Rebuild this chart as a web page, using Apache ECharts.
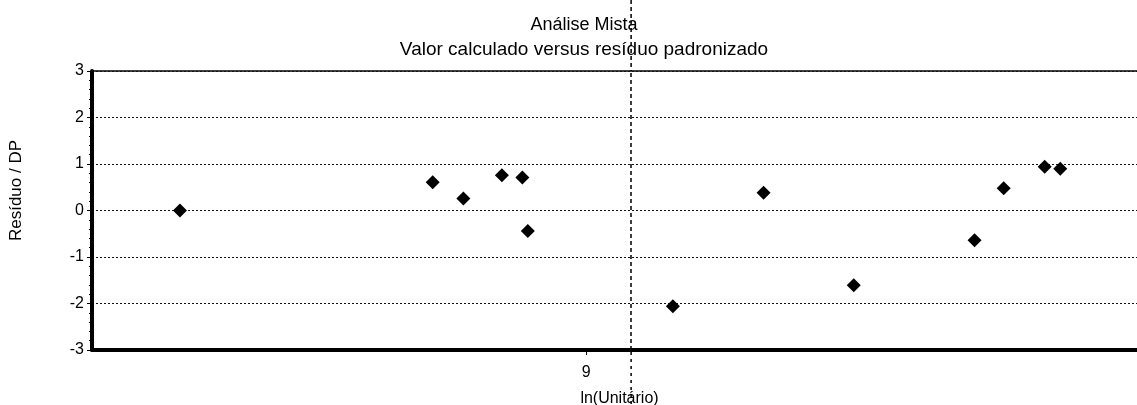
<!DOCTYPE html>
<html>
<head>
<meta charset="utf-8">
<script src="https://cdn.jsdelivr.net/npm/echarts@6/dist/echarts.min.js"></script>
<style>
html,body{margin:0;padding:0;background:#fff;}
#c{width:1137px;height:405px;}
</style>
</head>
<body>
<div id="c"></div>
<script>
// ln(Unitário) values (x) and standardized residuals (y)
const lnUnitario = [7.356, 8.379, 8.503, 8.659, 8.742, 8.764, 9.351, 9.718, 10.083, 10.572, 10.690, 10.856, 10.919];
const residuoDP  = [0.00, 0.61, 0.26, 0.76, 0.71, -0.44, -2.06, 0.38, -1.61, -0.64, 0.48, 0.94, 0.90];
const xTickLabels = [9];
const yTicks = [-3, -2, -1, 0, 1, 2, 3];
const referenceX = 9.182;

const titleText = 'Análise Mista';
const subtitleText = 'Valor calculado versus resíduo padronizado';
const xName = 'ln(Unitário)';
const yName = 'Resíduo / DP';

const font = 'Liberation Sans, Arial, sans-serif';
const chart = echarts.init(document.getElementById('c'));
const points = lnUnitario.map((x, i) => [x, residuoDP[i]]);

chart.setOption({
  animation: false,
  backgroundColor: '#fff',
  grid: {
    left: 92, top: 71, right: -10, bottom: 55,
    outerBoundsMode: 'none', containLabel: false,
    show: true, borderColor: '#000', borderWidth: 1.5, backgroundColor: 'transparent'
  },
  xAxis: {
    type: 'value', min: 7, max: 11.27,
    name: xName, nameLocation: 'middle', nameGap: 41,
    nameTextStyle: { fontFamily: font, fontSize: 16, color: '#000' },
    axisLine: { show: true, onZero: false, lineStyle: { color: '#000', width: 4 } },
    axisTick: { show: true, customValues: xTickLabels, length: 5, lineStyle: { color: '#000' } },
    axisLabel: { customValues: xTickLabels, fontFamily: font, fontSize: 16, color: '#000', margin: 15 },
    splitLine: { show: false }
  },
  yAxis: {
    type: 'value', min: -3, max: 3, interval: 1,
    name: yName, nameLocation: 'middle', nameGap: 67, nameRotate: 90,
    nameTextStyle: { fontFamily: font, fontSize: 17, color: '#000', padding: [0, 0, 0, 40] },
    axisLine: { show: true, onZero: false, lineStyle: { color: '#000', width: 4 } },
    axisTick: { show: true, length: 5, lineStyle: { color: '#000' } },
    minorTick: { show: true, splitNumber: 5, length: 3, lineStyle: { color: '#000' } },
    axisLabel: { fontFamily: font, fontSize: 16, color: '#000', margin: 8 },
    splitLine: { show: true, lineStyle: { color: '#111', type: [2, 2], width: 1 } }
  },
  series: [{
    type: 'scatter',
    data: points,
    symbol: 'diamond',
    symbolSize: 14,
    itemStyle: { color: '#000', opacity: 1 },
    markLine: {
      silent: true, symbol: 'none', label: { show: false },
      lineStyle: { color: '#000', type: [4, 3], width: 1.5 },
      data: [{ xAxis: referenceX }]
    }
  }]
});

const px = chart.convertToPixel({ xAxisIndex: 0 }, referenceX);
chart.setOption({
  graphic: [
    { type: 'line', shape: { x1: px, y1: 0, x2: px, y2: 71 }, style: { stroke: '#000', lineWidth: 1.5, lineDash: [4, 3] } },
    { type: 'line', shape: { x1: px, y1: 352, x2: px, y2: 405 }, style: { stroke: '#000', lineWidth: 1.5, lineDash: [3, 4] } },
    { type: 'text', x: 584, y: 25, style: { text: titleText, fontFamily: font, fontSize: 18, fill: '#000', align: 'center', verticalAlign: 'middle' } },
    { type: 'text', x: 584, y: 50, style: { text: subtitleText, fontFamily: font, fontSize: 19, fill: '#000', align: 'center', verticalAlign: 'middle' } }
  ]
});
</script>
</body>
</html>
